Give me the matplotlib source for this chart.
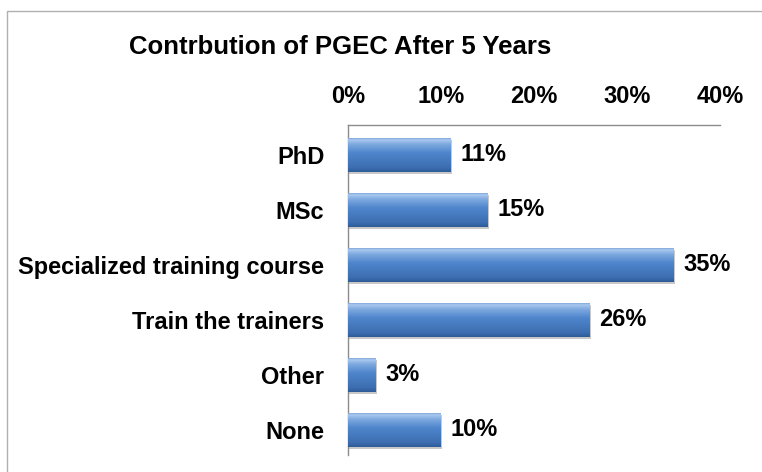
import matplotlib
matplotlib.use("Agg")
import matplotlib.pyplot as plt
import numpy as np
from matplotlib.colors import LinearSegmentedColormap
from matplotlib.patches import Rectangle

categories = ["PhD", "MSc", "Specialized training course", "Train the trainers", "Other", "None"]
values = [11, 15, 35, 26, 3, 10]
xticks = [0, 10, 20, 30, 40]
xtick_labels = ["0%", "10%", "20%", "30%", "40%"]
title = "Contrbution of PGEC After 5 Years"

plt.rcParams['font.family'] = ['Liberation Sans', 'DejaVu Sans']

fig = plt.figure(figsize=(7.62, 4.72), dpi=100)
fig.patches.append(Rectangle((7/762, -0.01), 1.0, 1 - 11/472 + 0.01, transform=fig.transFigure,
                             fill=False, edgecolor="#b0b0b0", linewidth=1.0))
ax = fig.add_axes([348/762, 1 - 455/472, (720 - 348)/762, (455 - 125)/472])

y = np.arange(len(categories))
bar_h = 0.62
bars = ax.barh(y, values, height=bar_h, color="#4F81BD", edgecolor="none", zorder=2)

cmap = LinearSegmentedColormap.from_list("bev", [
    (0.0, "#2E5B97"), (0.12, "#3C6DB0"), (0.55, "#4F86CC"), (0.8, "#7FAAE0"), (0.92, "#A9C8EE"), (1.0, "#6C98D2")])
grad = np.linspace(0, 1, 256).reshape(-1, 1)
for b in bars:
    x0, y0 = b.get_x(), b.get_y()
    w, h = b.get_width(), b.get_height()
    im = ax.imshow(grad, cmap=cmap, aspect="auto", extent=(x0, x0 + w, y0 + h, y0),
                   origin="lower", zorder=3)
    im.set_clip_path(b)
    ax.add_patch(Rectangle((x0 + 0.15, y0 + 0.04), w, h, facecolor="#c8c8c8", edgecolor="none", zorder=1))

ax.set_xlim(0, 40)
ax.set_ylim(len(categories) - 0.545, -0.545)
ax.set_yticks(y)
ax.set_yticklabels(categories, fontsize=17, fontweight="bold")
ax.set_xticks(xticks)
ax.set_xticklabels(xtick_labels, fontsize=17, fontweight="bold")
ax.xaxis.tick_top()
ax.tick_params(axis="x", length=0, pad=12)
ax.tick_params(axis="y", length=0, pad=17)
for s in ["right", "bottom"]:
    ax.spines[s].set_visible(False)
for s in ["top", "left"]:
    ax.spines[s].set_color("#8c8c8c")
    ax.spines[s].set_linewidth(1.0)

for yi, v in zip(y, values):
    ax.annotate(f"{v}%", xy=(v, yi), xytext=(7, 0), textcoords="offset points",
                va="center", ha="left", fontsize=17, fontweight="bold")

fig.text(340/762, 1 - 47/472, title, ha="center", va="center", fontsize=18.5, fontweight="bold")

fig.savefig("out.png", dpi=100)
